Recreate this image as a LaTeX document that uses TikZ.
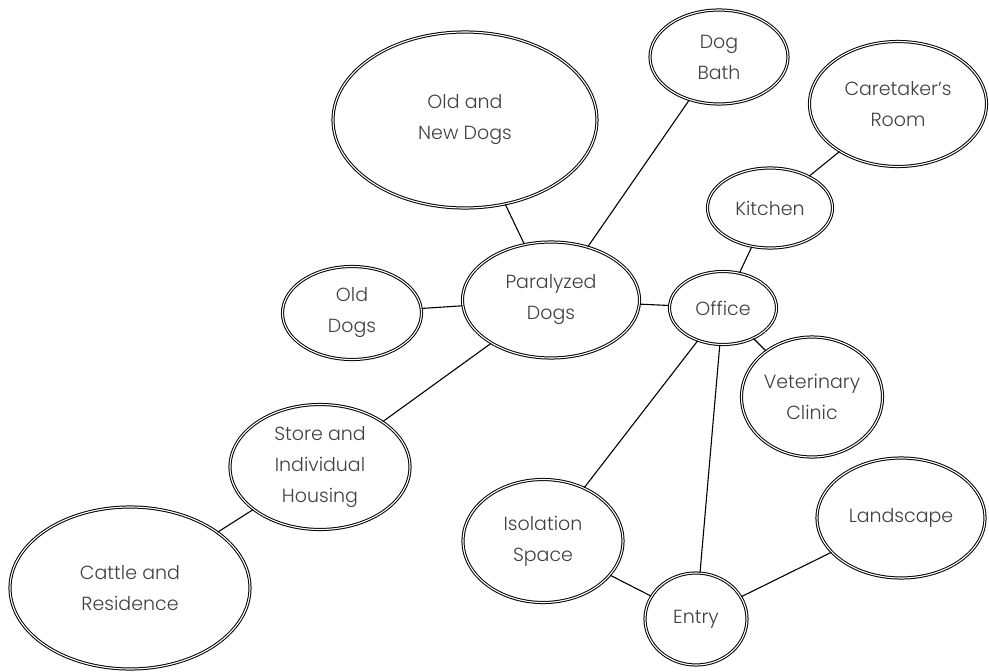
\documentclass[tikz,border=0pt]{standalone}
\usepackage{fontspec}
\IfFontExistsTF{Poppins Light}{\setmainfont{Poppins Light}}{\setmainfont{Poppins}}
\usetikzlibrary{shapes}

\begin{document}
\begin{tikzpicture}[x=1pt, y=-1pt, room/.style={ellipse, draw, double, double distance=1.1pt, line width=1pt, inner sep=0pt, align=center, text=black!75, font=\fontsize{19}{31}\selectfont}, link/.style={line width=1.1pt}]

    \useasboundingbox (0,0) rectangle (989,672);

    % rooms
    \node[room, minimum width=264pt, minimum height=176pt] (oldnew) at (465,120) {Old and\\New Dogs};
    \node[room, minimum width=138pt, minimum height=94pt] (dogbath) at (719,57) {Dog\\Bath};
    \node[room, minimum width=177pt, minimum height=125pt] (caretaker) at (898,104) {Caretaker's\\Room};
    \node[room, minimum width=125pt, minimum height=80pt] (kitchen) at (770,208) {Kitchen};
    \node[room, minimum width=139pt, minimum height=93pt] (olddogs) at (352,313) {Old\\Dogs};
    \node[room, minimum width=177pt, minimum height=116pt] (paralyzed) at (551,300) {Paralyzed\\Dogs};
    \node[room, minimum width=107pt, minimum height=73pt] (office) at (723,308) {Office};
    \node[room, minimum width=141pt, minimum height=120pt] (vet) at (812,397) {Veterinary\\Clinic};
    \node[room, minimum width=180pt, minimum height=125pt] (store) at (320,467) {Store and\\Individual\\Housing};
    \node[room, minimum width=240pt, minimum height=162pt] (cattle) at (130,588) {Cattle and\\Residence};
    \node[room, minimum width=160pt, minimum height=123pt] (isolation) at (543,541) {Isolation\\Space};
    \node[room, minimum width=102pt, minimum height=92pt] (entry) at (696,619) {Entry};
    \node[room, minimum width=168pt, minimum height=120pt] (landscape) at (901,518) {Landscape};

    % links
    \draw[link] (oldnew) -- (paralyzed);
    \draw[link] (dogbath) -- (paralyzed);
    \draw[link] (olddogs) -- (paralyzed);
    \draw[link] (paralyzed) -- (office);
    \draw[link] (paralyzed) -- (store);
    \draw[link] (store) -- (cattle);
    \draw[link] (office) -- (kitchen);
    \draw[link] (kitchen) -- (caretaker);
    \draw[link] (office) -- (vet);
    \draw[link] (office) -- (isolation);
    \draw[link] (office) -- (entry);
    \draw[link] (isolation) -- (entry);
    \draw[link] (entry) -- (landscape);

\end{tikzpicture}
\end{document}
